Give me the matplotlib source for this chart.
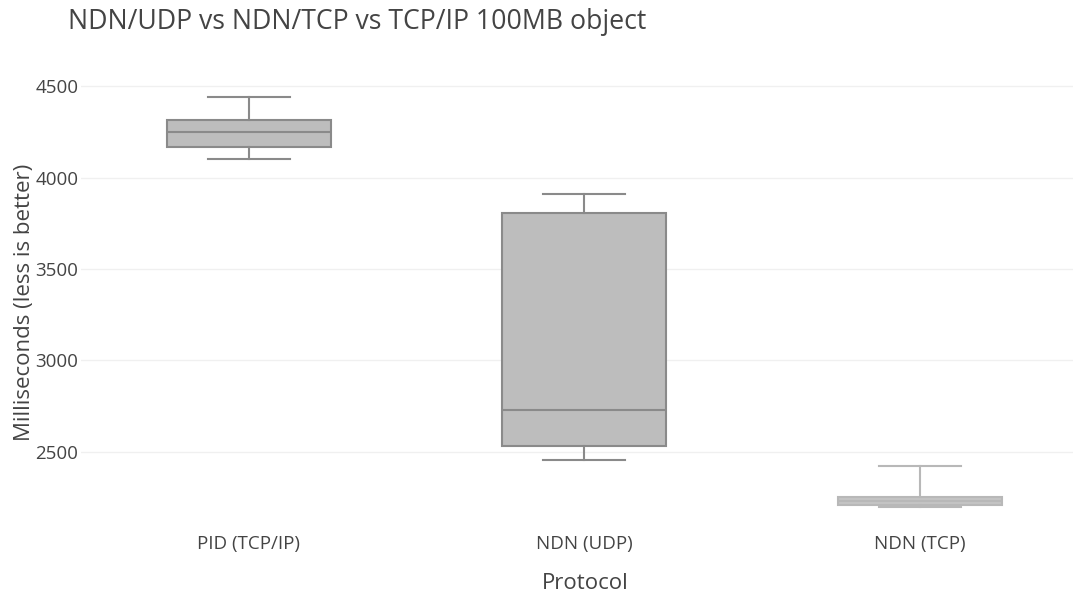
import matplotlib.pyplot as plt

# Box statistics (milliseconds)
protocols = ["PID (TCP/IP)", "NDN (UDP)", "NDN (TCP)"]
whisker_low = [4103, 2456, 2200]
q1 = [4168, 2529, 2211]
median = [4250, 2730, 2230]
q3 = [4314, 3804, 2250]
whisker_high = [4438, 3908, 2424]
y_ticks = [2500, 3000, 3500, 4000, 4500]

plt.rcParams['font.family'] = ['Open Sans', 'DejaVu Sans']

fig = plt.figure(figsize=(10.73, 5.96), dpi=100)
ax = fig.add_axes([81 / 1073, 1 - 527 / 596, 992 / 1073, 450 / 596])

stats = []
for i, name in enumerate(protocols):
    stats.append({
        "label": name,
        "whislo": whisker_low[i],
        "q1": q1[i],
        "med": median[i],
        "q3": q3[i],
        "whishi": whisker_high[i],
        "fliers": [],
    })

edge_colors = ["#8a8a8a", "#8a8a8a", "#b8b8b8"]
face_colors = ["#bdbdbd", "#bdbdbd", "#c4c4c4"]

for i, st in enumerate(stats):
    ax.bxp([st], positions=[i], widths=0.49, capwidths=0.245, patch_artist=True,
           showfliers=False,
           boxprops=dict(facecolor=face_colors[i], edgecolor=edge_colors[i], linewidth=1.5),
           medianprops=dict(color=edge_colors[i], linewidth=1.5),
           whiskerprops=dict(color=edge_colors[i], linewidth=1.5),
           capprops=dict(color=edge_colors[i], linewidth=1.5),
           zorder=3)

ax.set_xlim(-0.5, -0.5 + 992 / 335.5)
ax.set_ylim(2088, 4550)
ax.set_xticks(range(len(protocols)))
ax.set_xticklabels(protocols)
ax.set_yticks(y_ticks)
ax.grid(axis='y', color='#f0f0f0', linewidth=1, zorder=0)
ax.set_axisbelow(True)
for s in ax.spines.values():
    s.set_visible(False)
ax.tick_params(length=0, labelsize=13.5, colors='#444444')
ax.tick_params(axis='x', pad=6)
ax.tick_params(axis='y', pad=2)

ax.set_xlabel("Protocol", fontsize=16, color='#444444')
ax.xaxis.set_label_coords(504 / 992, -0.102)
ax.set_ylabel("Milliseconds (less is better)", fontsize=16, color='#444444', labelpad=0)
fig.text(68 / 1073, 1 - 22 / 596, "NDN/UDP vs NDN/TCP vs TCP/IP 100MB object",
         fontsize=19.2, color='#444444', va='center', ha='left')

fig.savefig("out.png", dpi=100)
